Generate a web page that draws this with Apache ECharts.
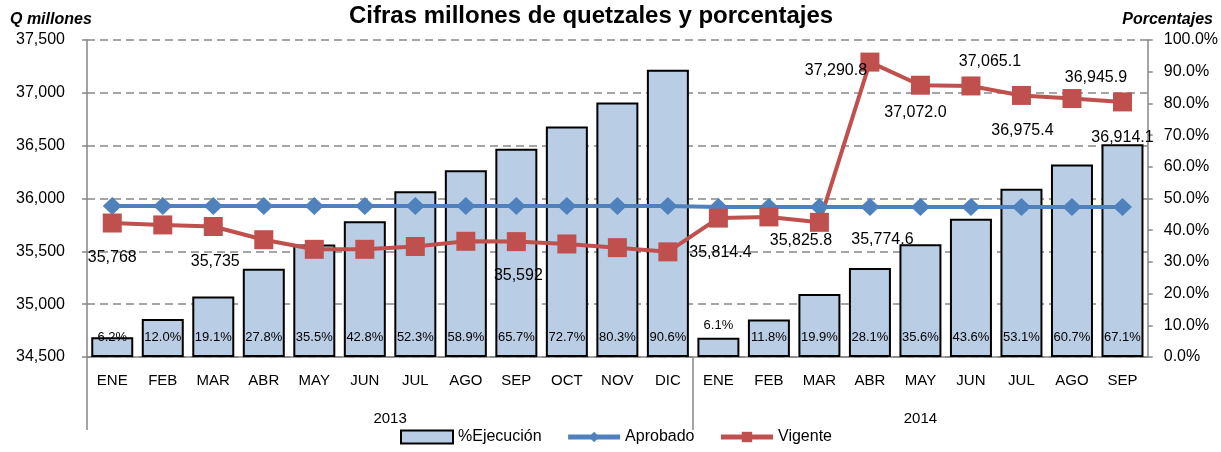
<!DOCTYPE html>
<html>
<head>
<meta charset="utf-8">
<script src="https://cdn.jsdelivr.net/npm/echarts@6/dist/echarts.min.js"></script>
<style>
  html, body { margin: 0; padding: 0; background: #fff; }
  #main { width: 1221px; height: 452px; }
</style>
</head>
<body>
<div id="main"></div>
<script>
// meses (dos años)
var months = ['ENE', 'FEB', 'MAR', 'ABR', 'MAY', 'JUN', 'JUL', 'AGO', 'SEP', 'OCT', 'NOV', 'DIC',
              'ENE', 'FEB', 'MAR', 'ABR', 'MAY', 'JUN', 'JUL', 'AGO', 'SEP'];
var years = ['2013', '2014'];

// % de ejecucion (eje derecho)
var ejecucion = [6.2, 12.0, 19.1, 27.8, 35.5, 42.8, 52.3, 58.9, 65.7, 72.7, 80.3, 90.6,
                 6.1, 11.8, 19.9, 28.1, 35.6, 43.6, 53.1, 60.7, 67.1];

// presupuesto aprobado (Q millones)
var aprobado = [35930, 35930, 35930, 35930, 35930, 35930, 35930, 35930, 35930, 35930, 35930, 35930,
                35920, 35920, 35920, 35920, 35920, 35920, 35920, 35920, 35920];

// presupuesto vigente (Q millones)
var vigente = [35768, 35750, 35735, 35610, 35519, 35519, 35546, 35595, 35592, 35570, 35535, 35495,
               35814.4, 35825.8, 35774.6, 37290.8, 37072.0, 37065.1, 36975.4, 36945.9, 36914.1];

// etiquetas visibles de la serie vigente y su desplazamiento
var vigenteLabels = {
  0: [0, 35], 2: [2, 35], 8: [2, 34],
  12: [2, 34], 13: [32, 24], 14: [63, 17], 15: [-34, 8],
  16: [-5, 27], 17: [19, -24], 18: [1, 35], 19: [24, -21], 20: [0, 36]
};

var font = 'Liberation Sans, Arial, sans-serif';

function miles(v, dec) {
  var s = v.toFixed(dec);
  var parts = s.split('.');
  parts[0] = parts[0].replace(/\B(?=(\d{3})+(?!\d))/g, ',');
  return parts.join('.');
}

var barData = ejecucion.map(function (v, i) {
  var item = { value: v };
  if (i === 12) {
    item.label = { position: 'top', distance: 6 };
  }
  return item;
});

var vigenteData = vigente.map(function (v, i) {
  var item = { value: v };
  if (vigenteLabels[i]) {
    item.label = { show: true, offset: vigenteLabels[i] };
  }
  return item;
});

var myChart = echarts.init(document.getElementById('main'));

var option = {
  animation: false,
  textStyle: { fontFamily: font },
  title: [{
    text: 'Cifras millones de quetzales y porcentajes',
    left: 344, top: -1,
    textStyle: { fontSize: 24, fontWeight: 'bold', color: '#000', fontFamily: font }
  }, {
    text: 'Q millones',
    left: 5, top: 7,
    textStyle: { fontSize: 16, fontWeight: 'bold', fontStyle: 'italic', color: '#000', fontFamily: font }
  }, {
    text: 'Porcentajes',
    right: 3, top: 7,
    textStyle: { fontSize: 16, fontWeight: 'bold', fontStyle: 'italic', color: '#000', fontFamily: font }
  }],
  legend: {
    bottom: 2,
    left: 395,
    itemWidth: 52,
    itemHeight: 13,
    itemGap: 24,
    textStyle: { fontSize: 16, color: '#000', fontFamily: font },
    data: [
      { name: '%Ejecución', icon: 'rect' },
      { name: 'Aprobado', lineStyle: { width: 5 } },
      { name: 'Vigente', lineStyle: { width: 5 } }
    ]
  },
  grid: { left: 87, right: 73, top: 40, bottom: 95 },
  xAxis: [{
    type: 'category',
    data: months,
    position: 'bottom',
    axisLine: { lineStyle: { color: '#868686', width: 1.5 } },
    axisTick: { interval: 0, length: 37, lineStyle: { color: '#868686', width: 1.5 } },
    axisLabel: { interval: 0, margin: 16, fontSize: 15, color: '#000', fontFamily: font }
  }, {
    type: 'value',
    min: 0, max: 21,
    position: 'bottom',
    axisLine: { show: false },
    splitLine: { show: false },
    axisTick: { show: true, customValues: [0, 12], length: 73, lineStyle: { color: '#868686', width: 1.5 } },
    axisLabel: {
      customValues: [6, 16.5],
      margin: 54,
      fontSize: 15, color: '#000', fontFamily: font,
      formatter: function (v) { return v < 12 ? years[0] : years[1]; }
    }
  }],
  yAxis: [{
    type: 'value',
    min: 34500, max: 37500, interval: 500,
    axisLine: { show: true, lineStyle: { color: '#868686', width: 1.5 } },
    axisTick: { show: true, length: 5, lineStyle: { color: '#868686', width: 1.5 } },
    splitLine: { show: true, lineStyle: { color: '#888', type: [8, 5], width: 1.5 } },
    axisLabel: {
      fontSize: 16, color: '#000', margin: 22, fontFamily: font,
      formatter: function (v) { return miles(v, 0); }
    }
  }, {
    type: 'value',
    min: 0, max: 100, interval: 10,
    position: 'right',
    axisLine: { show: true, lineStyle: { color: '#868686', width: 1.5 } },
    axisTick: { show: true, length: 5, lineStyle: { color: '#868686', width: 1.5 } },
    splitLine: { show: false },
    axisLabel: {
      fontSize: 16, color: '#000', margin: 16, fontFamily: font,
      formatter: function (v) { return v.toFixed(1) + '%'; }
    }
  }],
  series: [{
    name: '%Ejecución',
    type: 'bar',
    yAxisIndex: 1,
    barWidth: 42,
    data: barData,
    itemStyle: { color: '#B9CDE5', borderColor: '#000', borderWidth: 2 },
    label: {
      show: true,
      position: 'insideBottom',
      distance: 13,
      fontSize: 13,
      color: '#000',
      fontFamily: font,
      formatter: function (p) { return p.value.toFixed(1) + '%'; }
    }
  }, {
    name: 'Aprobado',
    type: 'line',
    data: aprobado,
    symbol: 'diamond',
    symbolSize: [19, 18],
    itemStyle: { color: '#4F81BD' },
    lineStyle: { color: '#4F81BD', width: 4 }
  }, {
    name: 'Vigente',
    type: 'line',
    data: vigenteData,
    symbol: 'rect',
    symbolSize: 19,
    itemStyle: { color: '#C0504D' },
    lineStyle: { color: '#C0504D', width: 4 },
    label: {
      show: false,
      position: 'inside',
      fontSize: 16,
      color: '#000',
      fontFamily: font,
      formatter: function (p) { return miles(p.value, p.dataIndex < 12 ? 0 : 1); }
    }
  }]
};

myChart.setOption(option);
</script>
</body>
</html>
